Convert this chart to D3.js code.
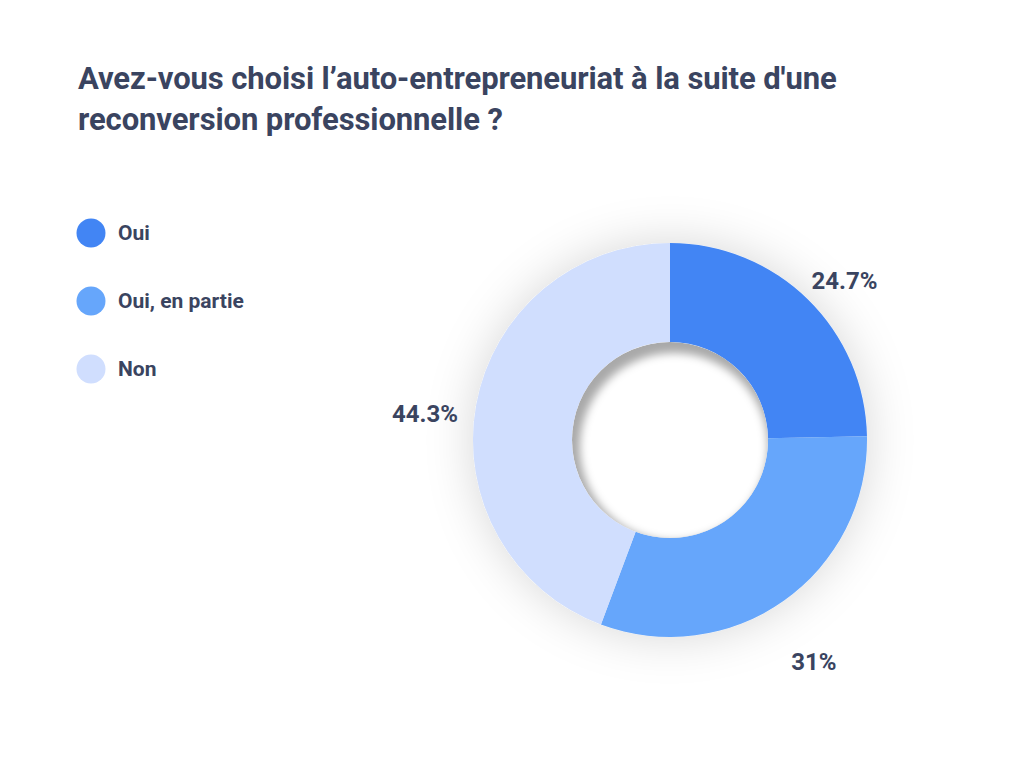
<!DOCTYPE html>
<html><head><meta charset="utf-8">
<script src="https://cdn.jsdelivr.net/npm/d3@7"></script>
<style>
html,body{margin:0;padding:0;background:#fff;}
svg{display:block;font-family:Roboto, "Noto Sans", sans-serif;}
</style></head>
<body>
<svg id="chart" width="1024" height="768"></svg>
<script>
const titleLines = ["Avez-vous choisi l\u2019auto-entrepreneuriat à la suite d'une", "reconversion professionnelle ?"];
const categories = ["Oui", "Oui, en partie", "Non"];
const values = [24.7, 31, 44.3];
const labels = ["24.7%", "31%", "44.3%"];
const colors = ["#4285f4", "#66a6fb", "#d0defe"];

const svg = d3.select("#chart");
const textColor = "#3a4460";

const defs = svg.append("defs");
const ds = defs.append("filter").attr("id","outerShadow").attr("x","-50%").attr("y","-50%").attr("width","200%").attr("height","200%");
ds.append("feDropShadow").attr("dx",0).attr("dy",0).attr("stdDeviation",24).attr("flood-color","#000").attr("flood-opacity",0.16);
const blur = defs.append("filter").attr("id","innerBlur").attr("x","-50%").attr("y","-50%").attr("width","200%").attr("height","200%");
blur.append("feGaussianBlur").attr("stdDeviation",4);

// title
svg.append("text").attr("x",78).attr("y",89).attr("fill",textColor)
  .attr("font-size",31).attr("font-weight",700).attr("letter-spacing",-0.1)
  .selectAll("tspan").data(titleLines).join("tspan")
  .attr("x",78).attr("dy",(d,i)=>i===0?0:41).text(d=>d);

// legend
const legend = svg.append("g");
const ly = d3.scalePoint().domain(categories).range([233,369]);
legend.selectAll("circle").data(categories).join("circle")
  .attr("cx",91).attr("cy",d=>ly(d)).attr("r",14.5).attr("fill",(d,i)=>colors[i]);
legend.selectAll("text").data(categories).join("text")
  .attr("x",118).attr("y",d=>ly(d)).attr("dy","0.35em")
  .attr("font-size",21).attr("font-weight",700).attr("fill",textColor).text(d=>d);

// donut
const cx = 670, cy = 440, R = 197, r = 98;
const g = svg.append("g").attr("transform",`translate(${cx},${cy})`);
const pie = d3.pie().sort(null).value(d=>d);
const arcs = pie(values);
const arc = d3.arc().innerRadius(r).outerRadius(R);

g.append("g").attr("filter","url(#outerShadow)")
  .selectAll("path").data(arcs).join("path")
  .attr("d",arc).attr("fill",(d,i)=>colors[i]);

// inner hole with inset shadow
defs.append("clipPath").attr("id","holeClip").append("circle").attr("r",r);
const hole = g.append("g").attr("clip-path","url(#holeClip)");
hole.append("circle").attr("r",r).attr("fill","#a9a9a9");
hole.append("circle").attr("cx",4).attr("cy",7).attr("r",r-4).attr("fill","#fff").attr("filter","url(#innerBlur)");

// labels
const labelArc = d3.arc().innerRadius(249).outerRadius(249);
g.selectAll("text.lbl").data(arcs).join("text").attr("class","lbl")
  .attr("transform",d=>{const c=labelArc.centroid(d);return `translate(${c[0]},${c[1]+18})`;})
  .attr("text-anchor","middle").attr("dy","0.35em")
  .attr("font-size",24).attr("font-weight",700).attr("fill",textColor)
  .text((d,i)=>labels[i]);
</script>
</body></html>
